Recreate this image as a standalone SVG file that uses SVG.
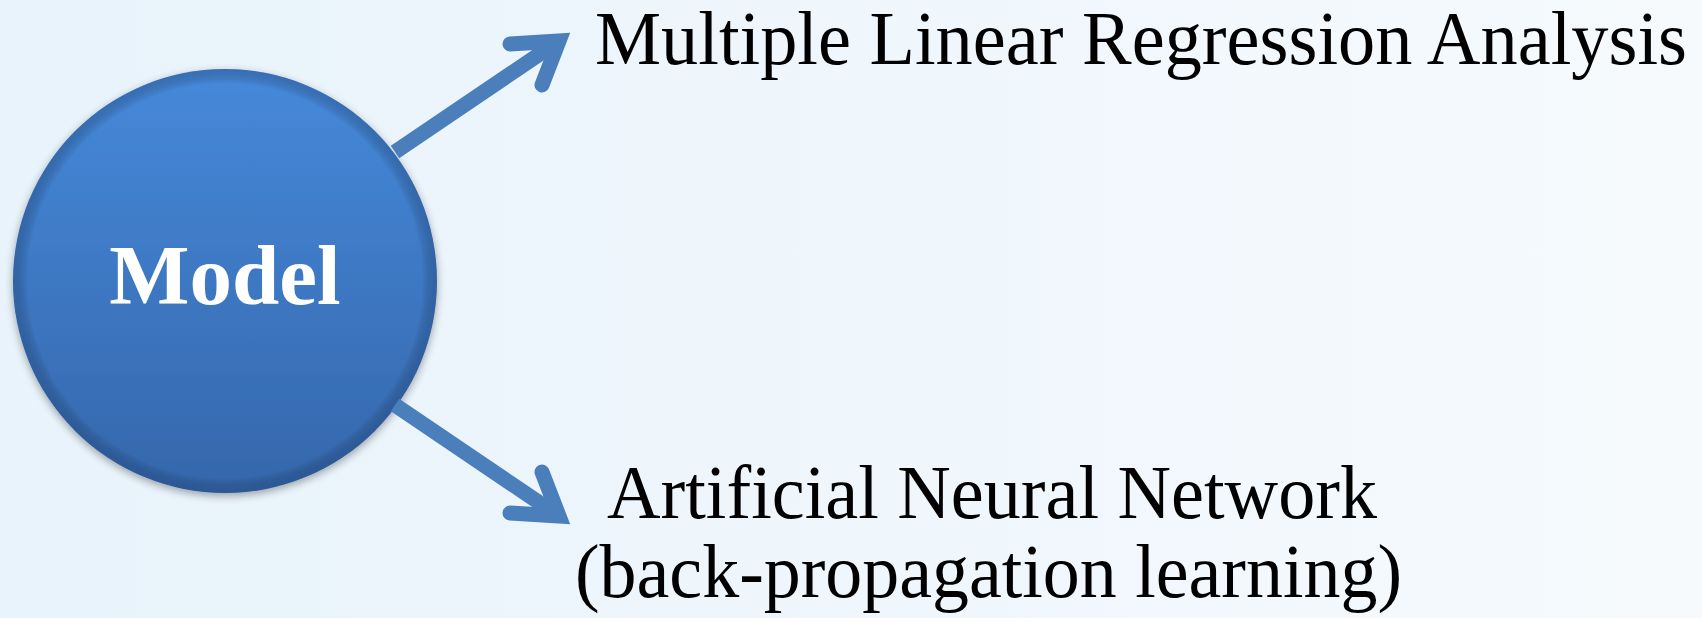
<svg xmlns="http://www.w3.org/2000/svg" width="1702" height="618" viewBox="0 0 1702 618">
  <defs>
    <linearGradient id="bg" x1="0" y1="0" x2="1" y2="0">
      <stop offset="0" stop-color="#e8f3fb"/>
      <stop offset="1" stop-color="#f6fafd"/>
    </linearGradient>
    <linearGradient id="ball" x1="0" y1="0" x2="0" y2="1">
      <stop offset="0" stop-color="#4689da"/>
      <stop offset="1" stop-color="#3567ab"/>
    </linearGradient>
    <radialGradient id="rim" cx="0.5" cy="0.5" r="0.5">
      <stop offset="0.93" stop-color="#000" stop-opacity="0"/>
      <stop offset="1" stop-color="#1c3d6e" stop-opacity="0.35"/>
    </radialGradient>
    <filter id="shadow" x="-20%" y="-20%" width="140%" height="140%">
      <feGaussianBlur in="SourceAlpha" stdDeviation="4"/>
      <feOffset dx="0" dy="3" result="b"/>
      <feComponentTransfer><feFuncA type="linear" slope="0.35"/></feComponentTransfer>
      <feMerge><feMergeNode/><feMergeNode in="SourceGraphic"/></feMerge>
    </filter>
    <style>
      .conn { fill: none; stroke: #4a7fbc; stroke-width: 15; }
      .shaft { stroke-linecap: butt; }
      .head { stroke-linecap: round; stroke-linejoin: miter; stroke-miterlimit: 10; }
      .lbl { font-family: "Liberation Serif", "Times New Roman", serif; font-size: 77px; fill: #000; }
      .title { font-family: "Liberation Serif", "Times New Roman", serif; font-size: 85px; font-weight: bold; fill: #fff; }
    </style>
  </defs>
  <rect x="0" y="0" width="1702" height="618" fill="url(#bg)"/>

  <g id="model">
    <circle cx="225" cy="281" r="212" fill="url(#ball)" filter="url(#shadow)"/>
    <circle cx="225" cy="281" r="212" fill="url(#rim)"/>
    <text class="title" x="225" y="304" text-anchor="middle">Model</text>
  </g>

  <g id="connectors">
    <g id="arrow-mlr">
      <path class="conn shaft" d="M395,152 L559,41"/>
      <path class="conn head" d="M510,44 L559,41 L542,85"/>
    </g>
    <g id="arrow-ann">
      <path class="conn shaft" d="M395,405 L559,516"/>
      <path class="conn head" d="M510,513 L559,516 L542,472"/>
    </g>
  </g>

  <g id="mlr">
    <text class="lbl" x="595" y="64" textLength="1092" lengthAdjust="spacingAndGlyphs">Multiple Linear Regression Analysis</text>
  </g>

  <g id="ann">
    <text class="lbl" x="607" y="518" textLength="770" lengthAdjust="spacingAndGlyphs">Artificial Neural Network</text>
    <text class="lbl" x="575" y="597" textLength="827" lengthAdjust="spacingAndGlyphs">(back-propagation learning)</text>
  </g>
</svg>
